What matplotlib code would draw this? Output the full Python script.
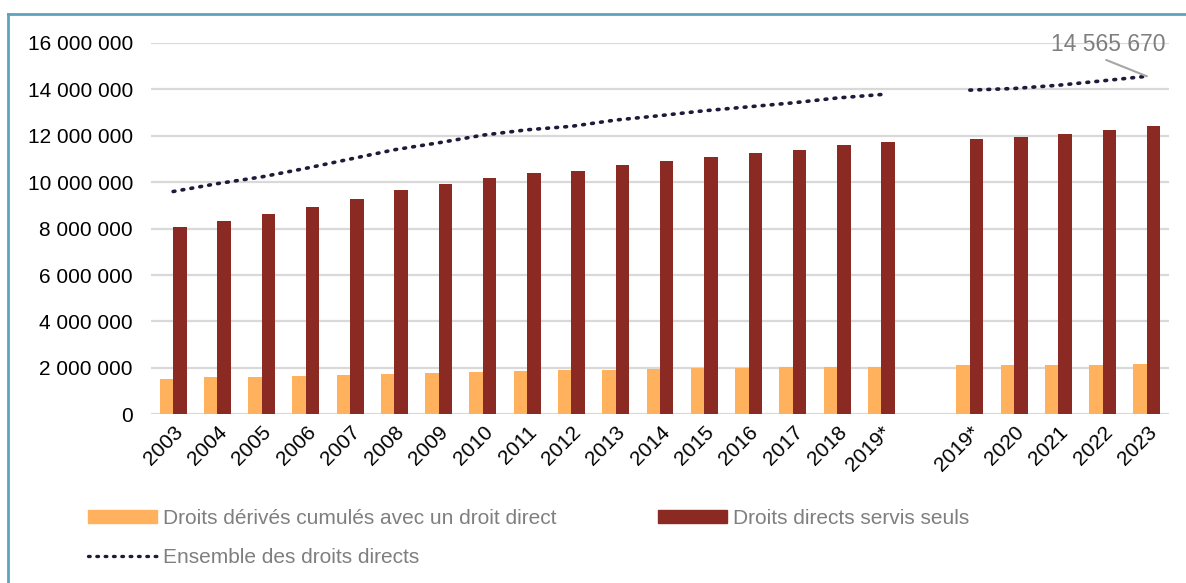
import numpy as np
import matplotlib.pyplot as plt
from matplotlib.lines import Line2D
from matplotlib.patches import Patch

plt.rcParams["font.family"] = ["Liberation Sans", "DejaVu Sans"]
plt.rcParams["font.size"] = 15

# categories ("" = empty slot between the two series)
years = ["2003", "2004", "2005", "2006", "2007", "2008", "2009", "2010", "2011",
         "2012", "2013", "2014", "2015", "2016", "2017", "2018", "2019*",
         "", "2019*", "2020", "2021", "2022", "2023"]

# Droits directs servis seuls
directs_seuls = [8.07e6, 8.35e6, 8.61e6, 8.94e6, 9.29e6, 9.65e6, 9.91e6, 10.19e6, 10.38e6,
                 10.49e6, 10.75e6, 10.92e6, 11.10e6, 11.24e6, 11.40e6, 11.59e6, 11.74e6,
                 np.nan, 11.86e6, 11.93e6, 12.06e6, 12.25e6, 12.416e6]
# Droits dérivés cumulés avec un droit direct
derives_cumules = [1.53e6, 1.59e6, 1.62e6, 1.66e6, 1.71e6, 1.75e6, 1.79e6, 1.84e6, 1.88e6,
                   1.92e6, 1.93e6, 1.95e6, 1.98e6, 2.01e6, 2.02e6, 2.04e6, 2.04e6,
                   np.nan, 2.11e6, 2.11e6, 2.12e6, 2.12e6, 2.15e6]

total_2023 = 14565670

x = np.arange(len(years))
seuls = np.array(directs_seuls)
derives = np.array(derives_cumules)
ensemble = seuls + derives

orange = "#FFB15E"
rouge = "#8B2923"
gris = "#7F7F7F"
dots = (0, (0.5, 2.0))

fig = plt.figure(figsize=(11.86, 5.83), dpi=100, facecolor="w")
ax = fig.add_axes([151 / 1186, 1 - 414.3 / 583, (1169 - 151) / 1186, (414.3 - 43) / 583])

w = 0.305
ax.bar(x - w / 2, derives, width=w, color=orange, zorder=2)
ax.bar(x + w / 2, seuls, width=w, color=rouge, zorder=2)
ax.plot(x, ensemble, linestyle=dots, dash_capstyle="round", color="#1C1C3A",
        linewidth=2.6, zorder=3)

ax.set_xlim(-0.5, len(years) - 0.5)
ax.set_ylim(0, 16e6)
ax.set_yticks(np.arange(0, 16e6 + 1, 2e6))
ax.yaxis.set_major_formatter(plt.FuncFormatter(lambda v, p: f"{int(v):,}".replace(",", " ")))
ax.set_xticks(x)
ax.set_xticklabels(years, rotation=45, ha="right", rotation_mode="anchor")
ax.tick_params(axis="both", length=0, colors="black")
ax.tick_params(axis="y", pad=13)
ax.tick_params(axis="x", pad=6)
ax.grid(axis="y", color="#D9D9D9", linewidth=1.6, zorder=0)
ax.set_axisbelow(True)
for s in ax.spines.values():
    s.set_visible(False)

# label of the last total value, with its leader line
ax.text(x[-1] + 0.42, 15.95e6, f"{total_2023:,}".replace(",", " "), ha="right", va="center",
        color=gris, fontsize=16.5, clip_on=False)
ax.annotate("", xy=(x[-1], total_2023), xytext=(x[-1] - 0.92, 15.27e6),
            arrowprops=dict(arrowstyle="-", color="#A6A6A6", lw=1.5, shrinkA=0, shrinkB=0),
            annotation_clip=False)

handles = [Patch(color=orange),
           Line2D([0], [0], linestyle=dots, color="#1C1C3A", linewidth=2.4, dash_capstyle="round"),
           Patch(color=rouge)]
labels = ["Droits dérivés cumulés avec un droit direct", "Ensemble des droits directs",
          "Droits directs servis seuls"]
fig.legend(handles, labels, ncol=2, loc="upper left", bbox_to_anchor=(69 / 1186, 1 - 490 / 583),
           frameon=False, fontsize=15, handlelength=3.3, handleheight=0.55, handletextpad=0.3,
           labelspacing=0.95, columnspacing=4.9, labelcolor=gris)

# frame of the figure
fig.add_artist(Line2D([8 / 1186, 8 / 1186], [0, 1 - 14 / 583], color="#5BA3BE", lw=2))
fig.add_artist(Line2D([8 / 1186, 1], [1 - 14 / 583, 1 - 14 / 583], color="#5BA3BE", lw=2))

plt.savefig("out.png", dpi=100)
